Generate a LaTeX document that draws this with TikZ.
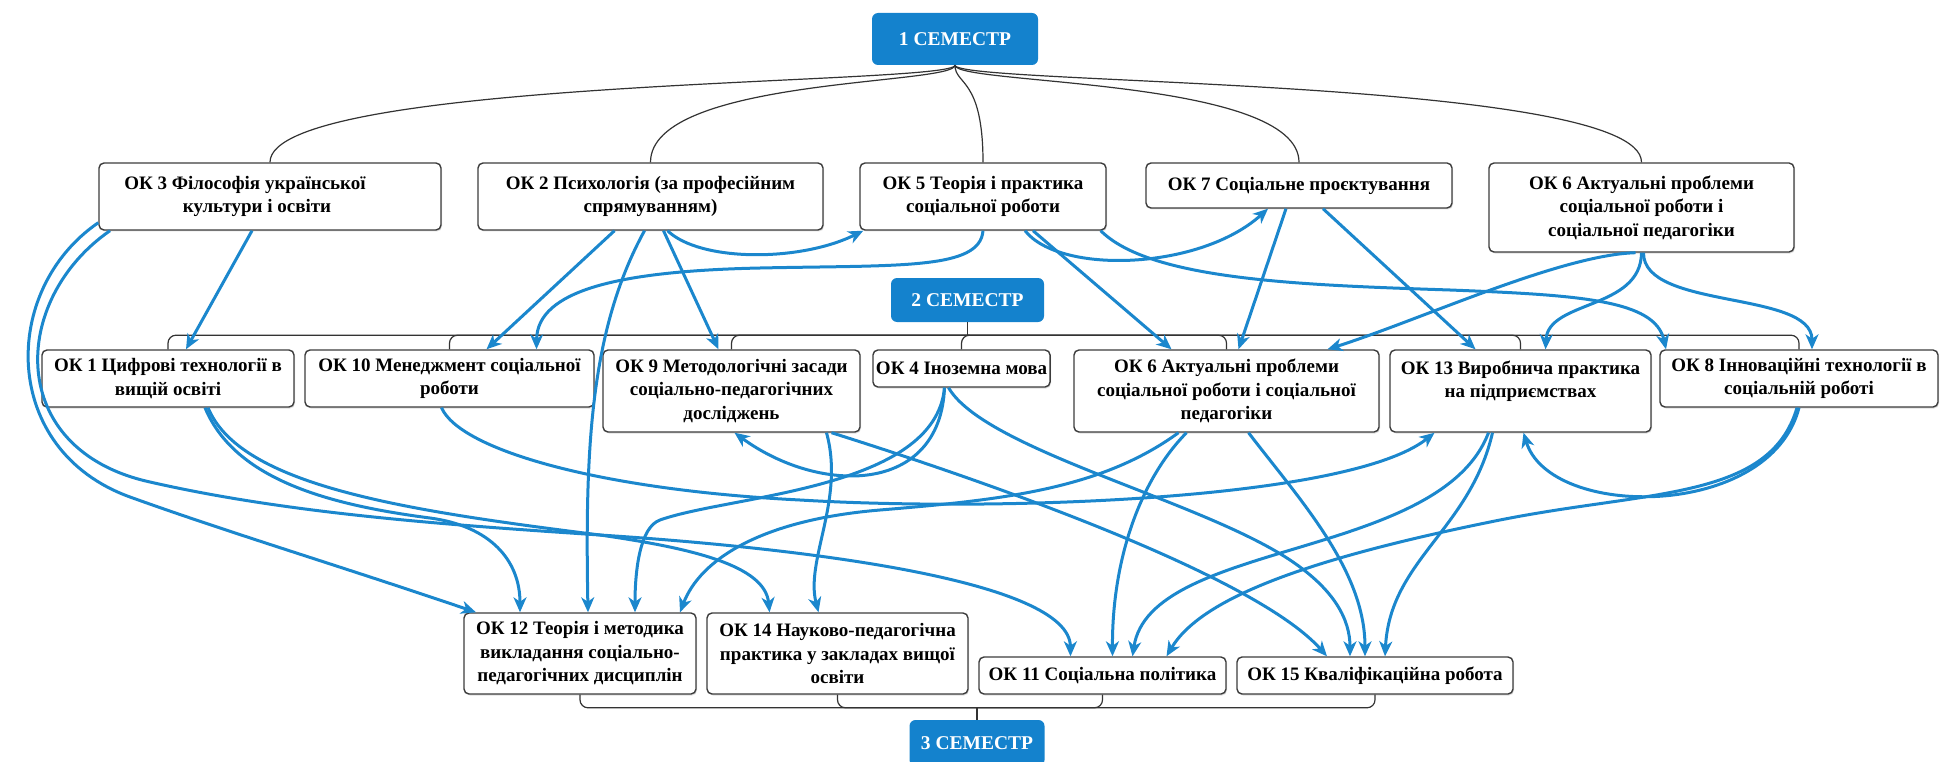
\documentclass[tikz,border=0pt]{standalone}
\usepackage{fontspec}
\setmainfont{Liberation Serif}
\usetikzlibrary{arrows.meta, shadows}
\definecolor{linkblue}{RGB}{27,135,205}
\definecolor{semblue}{RGB}{20,130,205}
\definecolor{boxline}{RGB}{60,60,60}

\begin{document}
\begin{tikzpicture}[x = 1pt, y = -1pt,
    okbox/.style = {draw = boxline, line width = 1.4pt, rounded corners = 5pt, fill = white, align = center,
        inner xsep = 3pt, inner ysep = 2pt, font = \bfseries\fontsize{19}{23.5}\selectfont,
        drop shadow = {opacity = 0.25, shadow xshift = 1pt, shadow yshift = -1.5pt}},
    sembox/.style = {fill = semblue, rounded corners = 6pt, text = white, font = \bfseries\fontsize{19.5}{22}\selectfont},
    tree/.style = {draw = black!80, line width = 1.2pt, rounded corners = 8pt},
    link/.style = {draw = linkblue, line width = 3pt, -{Stealth[length = 15pt, width = 13pt, inset = 4.5pt]}}]
    \useasboundingbox (0, 0) rectangle (1941, 762);

    % semesters
    \node [sembox, minimum width = 166pt, minimum height = 52pt] (sem1) at (955, 39) {1 СЕМЕСТР};
    \node [sembox, minimum width = 153pt, minimum height = 44pt] (sem2) at (967.5, 300) {2 СЕМЕСТР};
    \node [sembox, minimum width = 135pt, minimum height = 46pt] (sem3) at (977, 743) {3 СЕМЕСТР};

    % first row
    \node [okbox, minimum width = 342pt, minimum height = 67pt] (ok3) at (270, 196.5) {ОК 3 Філософія української\hspace*{50pt}\\культури і освіти\hspace*{26pt}};
    \node [okbox, minimum width = 345pt, minimum height = 67pt] (ok2) at (650.5, 196.5) {ОК 2 Психологія (за професійним\\спрямуванням)};
    \node [okbox, minimum width = 246pt, minimum height = 67pt] (ok5) at (983, 196.5) {ОК 5 Теорія і практика\\соціальної роботи};
    \node [okbox, minimum width = 306pt, minimum height = 45pt] (ok7) at (1299, 185.5) {ОК 7 Соціальне проєктування};
    \node [okbox, minimum width = 305pt, minimum height = 89pt] (ok6a) at (1641.5, 207.5) {ОК 6 Актуальні проблеми\\соціальної роботи і\\соціальної педагогіки};

    % second row
    \node [okbox, minimum width = 252pt, minimum height = 57pt] (ok1) at (168, 378.5) {ОК 1 Цифрові технології в\\вищій освіті};
    \node [okbox, minimum width = 289pt, minimum height = 57pt] (ok10) at (449.5, 378.5) {ОК 10 Менеджмент соціальної\\роботи};
    \node [okbox, minimum width = 257pt, minimum height = 82pt] (ok9) at (731.5, 391) {ОК 9 Методологічні засади\\соціально-педагогічних\\досліджень};
    \node [okbox, minimum width = 177pt, minimum height = 37pt] (ok4) at (961.5, 368.5) {ОК 4 Іноземна мова};
    \node [okbox, minimum width = 305pt, minimum height = 82pt] (ok6b) at (1226.5, 391) {ОК 6 Актуальні проблеми\\соціальної роботи і соціальної\\педагогіки};
    \node [okbox, minimum width = 261pt, minimum height = 82pt] (ok13) at (1520.5, 391) {ОК 13 Виробнича практика\\на підприємствах\\~};
    \node [okbox, minimum width = 278pt, minimum height = 57pt] (ok8) at (1799, 378.5) {ОК 8 Інноваційні технології в\\соціальній роботі};

    % third row
    \node [okbox, minimum width = 232pt, minimum height = 81pt] (ok12) at (580, 653.5) {ОК 12 Теорія і методика\\викладання соціально-\\педагогічних дисциплін};
    \node [okbox, minimum width = 261pt, minimum height = 81pt] (ok14) at (837.5, 653.5) {ОК 14 Науково-педагогічна\\практика у закладах вищої\\освіти};
    \node [okbox, minimum width = 247pt, minimum height = 37pt] (ok11) at (1102.5, 675.5) {ОК 11 Соціальна політика};
    \node [okbox, minimum width = 276pt, minimum height = 37pt] (ok15) at (1375, 675.5) {ОК 15 Кваліфікаційна робота};

    % tree lines
    \draw [tree] (sem1.south) .. controls +(0, 20) and +(0, -85) .. (ok3.north);
    \draw [tree] (sem1.south) .. controls +(0, 20) and +(0, -85) .. (ok2.north);
    \draw [tree] (sem1.south) .. controls +(0, 20) and +(0, -85) .. (ok5.north);
    \draw [tree] (sem1.south) .. controls +(0, 20) and +(0, -85) .. (ok7.north);
    \draw [tree] (sem1.south) .. controls +(0, 20) and +(0, -85) .. (ok6a.north);

    \draw [tree] (sem2.south) -- ++(0, 13) coordinate (bar2);
    \draw [tree] (bar2) -| (ok1.north);
    \draw [tree] (bar2) -| (ok10.north);
    \draw [tree] (bar2) -| (ok9.north);
    \draw [tree] (bar2) -| (ok4.north);
    \draw [tree] (bar2) -| (ok6b.north);
    \draw [tree] (bar2) -| (ok13.north);
    \draw [tree] (bar2) -| (ok8.north);

    \draw [tree] (sem3.north) -- ++(0, -12) coordinate (bar3);
    \draw [tree] (ok12.south) |- (bar3);
    \draw [tree] (ok14.south) |- (bar3);
    \draw [tree] (ok11.south) |- (bar3);
    \draw [tree] (ok15.south) |- (bar3);

    % links from the first row
    \draw [link] ([xshift = -18pt]ok3.south) -- ([xshift = 18pt]ok1.north);
    \draw [link] ([yshift = 8pt]ok3.south west) .. controls (0, 290) and (0, 450) .. (130, 497)
        .. controls (230, 533) and (340, 566) .. ([xshift = -104pt]ok12.north);
    \draw [link] ([xshift = -160pt]ok3.south) .. controls (10, 300) and (5, 450) .. (150, 482)
        .. controls (290, 514) and (450, 525) .. (600, 535)
        .. controls (800, 548) and (1070, 580) .. ([xshift = -32pt]ok11.north);
    \draw [link] ([xshift = -36pt]ok2.south) -- ([xshift = 37pt]ok10.north);
    \draw [link] ([xshift = -6pt]ok2.south) .. controls (590, 330) and (585, 450) .. ([xshift = 8pt]ok12.north);
    \draw [link] ([xshift = 13pt]ok2.south) -- ([xshift = -13pt]ok9.north);
    \draw [link] ([xshift = 17pt]ok2.south) .. controls (700, 262) and (800, 262) .. ([xshift = 4pt]ok5.south west);
    \draw [link] (ok5.south) .. controls (980, 270) and (900, 265) .. (760, 268)
        .. controls (620, 271) and (537, 290) .. ([xshift = 87pt]ok10.north);
    \draw [link] ([xshift = 42pt]ok5.south) .. controls (1060, 275) and (1200, 270) .. ([xshift = -31pt]ok7.south);
    \draw [link] ([xshift = 50pt]ok5.south) -- ([xshift = -55pt]ok6b.north);
    \draw [link] ([xshift = -6pt]ok5.south east) .. controls (1150, 280) and (1300, 285) .. (1450, 290)
        .. controls (1580, 295) and (1655, 300) .. ([xshift = -133pt]ok8.north);
    \draw [link] ([xshift = -13pt]ok7.south) -- ([xshift = 12pt]ok6b.north);
    \draw [link] ([xshift = 24pt]ok7.south) -- ([xshift = -45pt]ok13.north);
    \draw [link] ([xshift = -6pt]ok6a.south) .. controls (1560, 255) and (1420, 320) .. ([xshift = 101pt]ok6b.north);
    \draw [link] (ok6a.south) .. controls (1641, 310) and (1548, 300) .. ([xshift = 25pt]ok13.north);
    \draw [link] ([xshift = 2pt]ok6a.south) .. controls (1643, 310) and (1812, 290) .. ([xshift = 13pt]ok8.north);

    % links from the second row
    \draw [link] ([xshift = 37pt]ok1.south) .. controls (235, 480) and (330, 505) .. (430, 518)
        .. controls (490, 526) and (520, 560) .. ([xshift = -60pt]ok12.north);
    \draw [link] ([xshift = 40pt]ok1.south) .. controls (240, 485) and (400, 510) .. (600, 535)
        .. controls (690, 548) and (765, 565) .. ([xshift = -68pt]ok14.north);
    \draw [link] ([xshift = -8pt]ok10.south) .. controls (460, 450) and (600, 490) .. (800, 500)
        .. controls (1000, 512) and (1350, 500) .. ([xshift = -86pt]ok13.south);
    \draw [link] ([xshift = -17pt]ok4.south) .. controls (940, 495) and (820, 495) .. ([xshift = 3pt]ok9.south);
    \draw [link] ([xshift = -17pt]ok4.south) .. controls (935, 490) and (730, 495) .. (660, 520)
        .. controls (640, 527) and (635, 570) .. ([xshift = 55pt]ok12.north);
    \draw [link] ([xshift = -13pt]ok4.south) .. controls (985, 450) and (1200, 500) .. (1290, 560)
        .. controls (1335, 590) and (1350, 620) .. ([xshift = -25pt]ok15.north);
    \draw [link] ([xshift = 95pt]ok9.south) .. controls (845, 500) and (805, 560) .. ([xshift = -19pt]ok14.north);
    \draw [link] ([xshift = 100pt]ok9.south) .. controls (950, 470) and (1250, 570) .. ([xshift = -48pt]ok15.north);
    \draw [link] ([xshift = -48pt]ok6b.south) .. controls (1100, 490) and (1000, 500) .. (880, 510)
        .. controls (760, 520) and (700, 560) .. ([xshift = 100pt]ok12.north);
    \draw [link] ([xshift = -40pt]ok6b.south) .. controls (1140, 480) and (1112, 560) .. ([xshift = 10pt]ok11.north);
    \draw [link] ([xshift = 22pt]ok6b.south) .. controls (1300, 500) and (1365, 570) .. ([xshift = -10pt]ok15.north);
    \draw [link] ([xshift = -32pt]ok13.south) .. controls (1440, 560) and (1150, 540) .. ([xshift = 30pt]ok11.north);
    \draw [link] ([xshift = -28pt]ok13.south) .. controls (1470, 530) and (1390, 560) .. ([xshift = 10pt]ok15.north);
    \draw [link] (ok8.south) .. controls (1770, 520) and (1550, 520) .. ([xshift = 3pt]ok13.south);
    \draw [link] ([xshift = -2pt]ok8.south) .. controls (1770, 500) and (1650, 490) .. (1500, 520)
        .. controls (1300, 560) and (1200, 600) .. ([xshift = 64pt]ok11.north);
\end{tikzpicture}
\end{document}
